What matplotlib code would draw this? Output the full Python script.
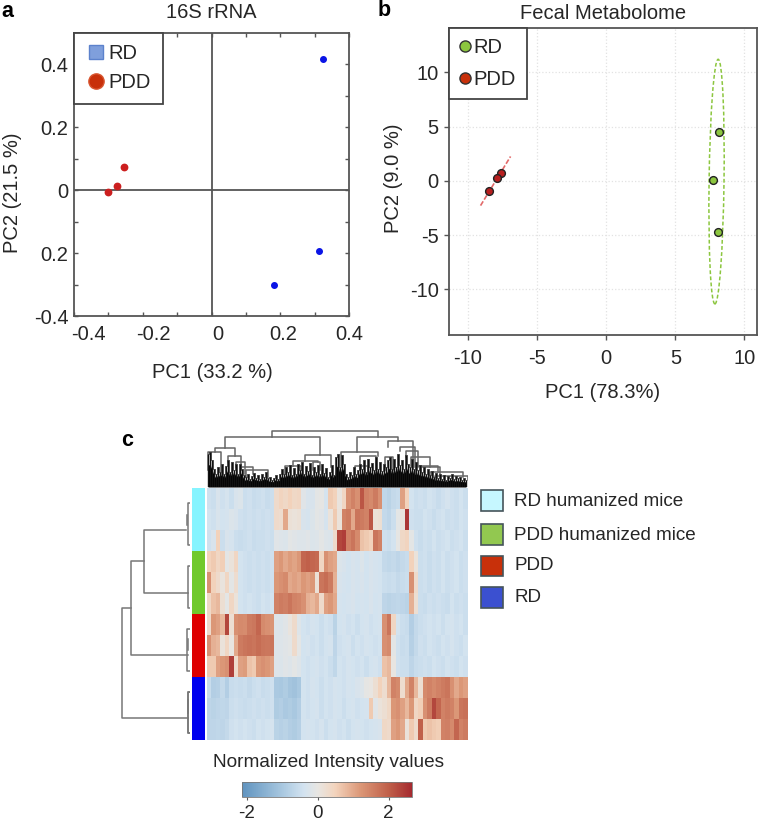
import numpy as np
import matplotlib
matplotlib.use("Agg")
import matplotlib.pyplot as plt
from matplotlib.colors import LinearSegmentedColormap, Normalize
from matplotlib.cm import ScalarMappable
from matplotlib.lines import Line2D
from matplotlib.patches import Ellipse, Rectangle

plt.rcParams["font.family"] = ["Liberation Sans", "DejaVu Sans"]
plt.rcParams["font.size"] = 14.5
plt.rcParams["text.color"] = "#262626"
plt.rcParams["axes.labelcolor"] = "#262626"
plt.rcParams["xtick.labelcolor"] = "#262626"
plt.rcParams["ytick.labelcolor"] = "#262626"
plt.rcParams["axes.unicode_minus"] = False

WIDTH, HEIGHT = 758, 823

# panel a
a_rd_x = [0.325, 0.313, 0.183]
a_rd_y = [0.416, -0.192, -0.300]
a_pdd_x = [-0.255, -0.276, -0.301]
a_pdd_y = [0.072, 0.012, -0.005]
a_xtick_labels = ["-0.4", "-0.2", "0", "0.2", "0.4"]
a_ytick_values = [-0.4, -0.2, 0, 0.2, 0.4]
a_ytick_labels = ["-0.4", "0.2", "0", "0.2", "0.4"]

# panel b
b_rd_x = [8.15, 7.72, 8.05]
b_rd_y = [4.52, 0.06, -4.68]
b_pdd_x = [-7.64, -7.88, -8.50]
b_pdd_y = [0.77, 0.28, -0.98]
b_pdd_line_x = [-9.09, -6.92]
b_pdd_line_y = [-2.28, 2.25]
b_ticks = [-10, -5, 0, 5, 10]

# panel c, normalized intensity per sample
rd_mice_1 = [-.45, -.5, -.3, -.45, -.35, -.5, -.3, -.25, -.5, -.45, -.55, -.5, -.45, -.55, -.5,
             .3, .45, .35, .5, .35, .4, -.15, -.3, -.3, -.1, -.05, -.35, .6, .5, .05, .4,
             1.3, 1.5, 1.3, 2.1, 1.5, 1.4, 1.6, 1.3, -.65, -.75, -.6, -.55, 1.1, .5,
             -.4, -.5, -.45, -.5, -.4, -.45, -.55, -.45, -.35, -.45, -.5, -.4, -.5]
rd_mice_2 = [-.4, -.45, -.3, -.4, -.35, -.25, -.3, -.45, -.5, -.45, -.5, -.45, -.5, -.45, -.5,
             .3, .25, 1.0, .15, .1, .15, -.3, -.35, -.25, -.1, -.15, -.35, .1, .6, .1,
             1.5, 1.6, 1.0, 1.7, 1.6, 1.5, 2.1, .15, .2, -.6, -.7, -.5, -.1, .05, 2.5,
             -.45, -.5, -.5, -.4, -.45, -.55, -.45, -.4, -.5, -.45, -.5, -.4, -.45]
rd_mice_3 = [-.45, -.3, .5, -.5, -.3, -.35, -.5, -.55, -.5, -.45, -.55, -.5, -.5, -.45, -.5,
             -.15, -.2, -.25, -.1, -.15, -.2, -.2, -.15, -.25, -.2, -.1, -.2, -.25, .3,
             2.3, 2.4, 1.5, 1.7, 1.4, .7, .6, .5, 1.7, 1.5, -.45, -.5, -.4, -.05, .35, .45, -.1,
             -.45, -.55, -.45, -.5, -.4, -.5, -.45, -.4, -.5, -.45, -.4, -.5]
pdd_mice_1 = [.5, .6, .4, .55, -.1, .1, .4, -.4, -.45, -.5, -.45, -.5, -.45, -.5, -.45,
              1.1, 1.2, 1.0, 1.15, 1.05, 1.2, 1.9, 2.0, 1.9, 1.85, .4, 1.3, 1.1, 1.0,
              -.25, -.3, -.4, -.3, -.35, -.25, -.4, -.3, -.35, -.4,
              -.6, -.65, -.6, -.7, -.6, -.55, .5, .1,
              -.5, -.45, -.55, -.45, -.5, -.4, -.5, -.45, -.4, -.5, -.45]
pdd_mice_2 = [1.3, .5, .3, .05, .4, -.1, .25, -.4, -.45, -.5, -.45, -.5, -.45, -.5, -.45,
              1.2, 1.3, 1.4, 1.0, 1.1, 1.0, 1.2, 1.1, 1.2, .15, 1.7, 1.8, 1.6, .9,
              -.3, -.35, -.4, -.3, -.35, -.3, -.4, -.3, -.35, -.4, -.5, -.55, -.5, -.6, -.55, -.5,
              1.3, .3, -.5, -.45, -.55, -.45, -.5, -.4, -.5, -.45, -.4, -.5, -.45]
pdd_mice_3 = [.35, .7, .8, .2, -.1, .4, .1, -.4, -.45, -.4, -.45, -.5, -.4, -.45, -.4,
              1.5, 1.6, 1.55, 1.7, 1.5, 1.45, 1.3, .9, .8, 1.0, .3, 1.1, 1.2, 1.0,
              -.35, -.4, -.35, -.3, -.4, -.35, -.4, -.3, -.4, -.35,
              -.7, -.75, -.7, -.65, -.7, -.75, .9, .2,
              -.5, -.55, -.45, -.5, -.45, -.5, -.55, -.4, -.5, -.45, -.5]
pdd_1 = [.3, 1.2, 1.1, .8, 2.3, .2, 1.3, 1.4, 1.35, 1.6, 1.65, 1.9, 1.4, 1.3, 1.25,
         -.2, -.25, -.15, .05, .3, -.2,
         -.4, -.45, -.35, -.4, -.5, -.4, -.45, -.75, -.4, -.35, -.45, -.4, -.5, -.4, -.35, -.45, -.4, -.35,
         1.3, 1.7, .4, -.4, -.5, -.55, -.85,
         -.6, -.5, -.45, -.4, -.45, -.4, -.5, -.4, -.35, -.45, -.4, -.5]
pdd_2 = [1.3, .9, .8, .1, .4, .0, 1.0, 1.6, 1.7, 1.75, 1.7, 1.8, 1.7, 1.65, 1.7,
         -.2, -.2, -.15, -.1, .3, -.1,
         -.4, -.35, -.45, -.4, -.5, -.4, -.35, -.7, -.45, -.4, -.35, -.5, -.4, -.45, -.35, -.4, -.45, -.4,
         1.3, 1.4, -.1, -.45, -.55, -.5, -.8, -.6, -.45, -.5, -.4, -.45, -.5, -.4, -.45, -.35, -.45, -.5, -.4]
pdd_3 = [.6, .6, 1.1, 1.2, 1.3, 2.4, .3, 1.1, 1.15, .7, .6, 1.2, 1.3, 1.2, 1.1,
         -.2, -.25, -.15, -.2, -.1, -.2,
         -.4, -.45, -.4, -.35, -.45, -.4, -.5, -.65, -.4, -.45, -.35, -.4, -.45, -.4, -.5, -.4, -.35, -.45,
         .7, .8, .0, -.45, -.5, -.5, -.7, -.55, -.5, -.45, -.5, -.4, -.45, -.5, -.4, -.45, -.5, -.4, -.45]
rd_1 = [-.55, -.85, -.8, -.6, -.85, -.55, -.5, -.55, -.5, -.6, -.5, -.45, -.55, -.5, -.45,
        -.95, -1.0, -.9, -1.05, -1.1, -1.0,
        -.4, -.45, -.35, -.4, -.5, -.4, -.45, -.35, -.4, -.45, -.35, -.4, -.3, -.25,
        -.05, .0, .2, .5, .25, .8, 1.5, 1.4, .25, 1.0, 1.5, .8, .2,
        1.4, 1.5, 1.4, 1.5, 1.6, 1.7, 1.3, 1.0, 1.2, 1.1]
rd_2 = [-.7, -.75, -.7, -.65, -.7, -.5, -.45, -.5, -.55, -.5, -.45, -.5, -.45, -.5, -.45,
        -.9, -.85, -.95, -.9, -1.0, -.85,
        -.4, -.45, -.4, -.35, -.5, -.4, -.45, -.35, -.4, -.5, -.4, -.35, -.45, -.4, -.35,
        .6, -.15, .1, .2, .35, 1.2, 1.3, 1.1, .8, 1.2, .4, .55,
        1.3, 1.6, 2.3, 1.9, 1.5, 1.6, 1.5, 1.2, 1.7, 1.75]
rd_3 = [-.7, -.7, -.65, -.7, -.6, -.45, -.4, -.45, -.4, -.45, -.5, -.4, -.45, -.4, -.35,
        -.75, -.8, -.75, -.85, -.9, -.8,
        -.4, -.35, -.4, -.45, -.35, -.5, -.4, -.35, -.45, -.4, -.5, -.4, -.35, -.4, -.45, -.4, -.35, -.3,
        .35, .3, 1.1, 1.2, 1.0, .1, .6, .3, 2.0, .6, .7, .6, .55,
        1.5, 1.55, 1.4, 1.9, 1.5, 1.6]
group_colors = ["#86F4FF", "#70C92C", "#DE0000", "#0000EE"]
legend_labels = ["RD humanized mice", "PDD humanized mice", "PDD", "RD"]
legend_colors = ["#C6F7FF", "#92C850", "#C8300A", "#3B50D0"]

# column tree, merges measured from the heatmap top
col_link_left = [457, 315, 712, 285, 265, 325, 350, 365, 380, 555, 520, 495, 580,
                 665, 805, 842, 860, 875, 890, 905, 930, 945, 720, 795, 705]
col_link_right = [775, 600, 835, 345, 305, 365, 375, 400, 445, 635, 595, 545, 600,
                  775, 880, 885, 895, 930, 955, 960, 1030, 1045, 770, 820, 745]
col_link_top = [167, 149, 149, 117, 104, 92, 74, 59, 52, 96, 79, 64, 76,
                104, 137, 121, 107, 89, 64, 61, 44, 34, 92, 89, 64]
col_drop_left = [149, 117, 104, 104, 50, 74, 59, 52, 30, 79, 64, 40, 50,
                 64, 121, 107, 89, 64, 40, 40, 30, 20, 50, 50, 40]
col_drop_right = [149, 96, 137, 92, 40, 50, 40, 40, 30, 60, 76, 50, 50,
                  92, 60, 60, 60, 61, 44, 40, 30, 20, 50, 50, 40]
leaf_heights = [100, 105, 80, 55, 40, 60, 45, 70, 38, 62, 80, 45, 75, 50, 68, 40, 70, 55, 35,
                30, 38, 25, 34, 42, 28, 36, 24, 40, 30, 45, 26,
                30, 22, 28, 36, 24, 40, 55, 38, 60, 45, 66, 35, 58, 40, 70,
                52, 75, 40, 62, 48, 72, 36, 60, 44, 65, 38, 70, 42, 58, 30,
                45, 65, 35, 90, 100, 60, 95, 70, 40, 30, 45, 35, 60, 40,
                50, 70, 55, 80, 45, 85, 60, 72, 50, 90, 55, 75, 48, 70, 60, 80,
                90, 55, 85, 60, 100, 65, 80, 55, 95, 70, 60, 85, 55, 75, 50, 65, 45, 60,
                40, 55, 35, 48, 30, 42, 26, 38, 24, 36, 22, 34, 28, 40, 24, 32, 26, 30, 22, 28, 20]

# row tree, distance from the leaves and position in rows
row_link_dist = [205, 178, 137, 10, 7, 7, 8, 7, 7, 7, 7]
row_link_top = [5.73, 3.48, 2.0, 1.27, .73, 3.71, 6.73, 7.2, 9.7, 10.1, 9.7]
row_link_bottom = [10.97, 7.95, 5.0, 1.76, 2.73, 5.73, 8.71, 7.7, 11.68, 10.7, 11.68]
row_drop_top = [178, 137, 13, 10, 0, 0, 0, 7, 0, 7, 0]
row_drop_bottom = [7, 7, 7, 10, 0, 0, 0, 7, 0, 7, 0]

cmap_stops = [(-2.15, "#5F93BF"), (-1.0, "#A9C8E0"), (-0.4, "#D3E3F0"), (0.0, "#E8E6E2"),
              (0.5, "#F3D3BC"), (1.2, "#DC9878"), (2.0, "#C0604A"), (2.66, "#A52A2F")]
cbar_ticks = [-2, 0, 2]


def add_axes_px(fig, left, top, right, bottom):
    return fig.add_axes([left / WIDTH, 1 - bottom / HEIGHT,
                         (right - left) / WIDTH, (bottom - top) / HEIGHT])


def style_spines(ax, color="#555555", width=1.3):
    for spine in ax.spines.values():
        spine.set_color(color)
        spine.set_linewidth(width)


def set_labels(ax, xlabel, ylabel, x_coords, y_coords):
    ax.set_xlabel(xlabel, va="center")
    ax.set_ylabel(ylabel, va="center")
    ax.xaxis.set_label_coords(*x_coords)
    ax.yaxis.set_label_coords(*y_coords)


def add_legend(ax, handles, labels, labelspacing, handlelength, handletextpad, borderpad):
    legend = ax.legend(handles, labels, loc="upper left", bbox_to_anchor=(0, 1), borderaxespad=0,
                       fancybox=False, framealpha=1, edgecolor="#444444",
                       labelspacing=labelspacing, handletextpad=handletextpad,
                       handlelength=handlelength, borderpad=borderpad, fontsize=14.5)
    legend.get_frame().set_linewidth(1.3)
    return legend


def plot_panel_a(fig):
    ax = add_axes_px(fig, 74, 32.7, 349, 316)
    ax.set_xlim(-0.4, 0.4)
    ax.set_ylim(-0.4, 0.5)
    ax.axhline(0, color="#555555", lw=1.3, zorder=1)
    ax.axvline(0, color="#555555", lw=1.3, zorder=1)
    ax.plot(a_rd_x, a_rd_y, "o", ms=4, color="#0A14E6", zorder=3)
    ax.plot(a_pdd_x, a_pdd_y, "o", ms=4.6, color="#CC1F1F", zorder=3)
    ax.set_xticks(np.arange(-4, 5) / 10)
    ax.set_xticklabels([])
    ax.set_yticks(a_ytick_values)
    ax.set_yticklabels(a_ytick_labels)
    ax.set_yticks([-0.3, -0.1, 0.1, 0.3], minor=True)
    ax.tick_params(which="both", direction="in", top=True, right=True, length=3,
                   color="#555555", width=1.0, pad=4)
    # the printed labels sit a little off their ticks
    for text, pos in zip(a_xtick_labels, [-0.359, -0.170, 0.019, 0.209, 0.401]):
        ax.text(pos, -0.067, text, transform=ax.get_xaxis_transform(), ha="center", va="center")
    set_labels(ax, "PC1 (33.2 %)", "PC2 (21.5 %)", (0.502, -0.201), (-0.222, 0.434))
    ax.set_title("16S rRNA", fontsize=14.5, y=1.0707, va="center", pad=0)
    handles = [Line2D([], [], ls="", marker="s", ms=10.5, mfc="#7F9FDC", mec="#5C82CC"),
               Line2D([], [], ls="", marker="o", ms=11, mfc="#C8300A", mec="#D8552F")]
    add_legend(ax, handles, ["RD", "PDD"], 0.5, 1.0, 0.15, 0.58)
    style_spines(ax)
    return ax


def plot_panel_b(fig):
    ax = add_axes_px(fig, 449.3, 28, 756.5, 334.7)
    ax.set_xlim(-11.35, 10.87)
    ax.set_ylim(-14.18, 14.09)
    ax.grid(True, ls=":", color="#E2E2E2", lw=0.9)
    ax.set_axisbelow(True)
    ax.add_patch(Ellipse((7.98, -0.07), 1.08, 22.55, angle=-0.6, fill=False, ec="#8CC63F",
                         ls=(0, (2.5, 1.5)), lw=1.1))
    ax.plot(b_pdd_line_x, b_pdd_line_y, color="#E26A6A", ls=(0, (3, 1.2)), lw=1.2, zorder=2)
    ax.plot(b_rd_x, b_rd_y, "o", ms=5.6, mfc="#8CC63F", mec="#222222", mew=1.0, zorder=3)
    ax.plot(b_pdd_x, b_pdd_y, "o", ms=5.6, mfc="#B81F1F", mec="#222222", mew=1.0, zorder=3)
    ax.set_xticks(b_ticks)
    ax.set_yticks(b_ticks)
    ax.tick_params(direction="out", length=3.6, color="#555555", width=1.0, pad=4)
    ax.tick_params(axis="x", pad=7)
    set_labels(ax, "PC1 (78.3%)", "PC2 (9.0 %)", (0.50, -0.19), (-0.183, 0.511))
    ax.set_title("Fecal Metabolome", fontsize=14.5, y=1.046, va="center", pad=0)
    handles = [Line2D([], [], ls="", marker="o", ms=8, mfc="#8CC63F", mec="#333333", mew=1.0),
               Line2D([], [], ls="", marker="o", ms=8, mfc="#C8300A", mec="#333333", mew=1.0)]
    add_legend(ax, handles, ["RD", "PDD"], 0.62, 0.5, 0.2, 0.52)
    style_spines(ax)
    return ax


def plot_heatmap(fig, cmap, norm):
    matrix = np.array([rd_mice_1, rd_mice_2, rd_mice_3, pdd_mice_1, pdd_mice_2, pdd_mice_3,
                       pdd_1, pdd_2, pdd_3, rd_1, rd_2, rd_3])
    ax = add_axes_px(fig, 207, 488, 468, 740)
    ax.imshow(matrix, aspect="auto", cmap=cmap, norm=norm, interpolation="nearest")
    ax.axis("off")

    side = add_axes_px(fig, 192.3, 488, 205.3, 742)
    for group_idx, color in enumerate(group_colors):
        side.bar(0.5, 63, bottom=group_idx * 63, width=1, color=color)
    side.set_xlim(0, 1)
    side.set_ylim(254, 0)
    side.axis("off")


def plot_col_tree(fig):
    ax = add_axes_px(fig, 207, 430, 468, 487)
    ax.set_xlim(262, 1045)
    ax.set_ylim(0, 171)
    for left, right, top, drop_l, drop_r in zip(col_link_left, col_link_right, col_link_top,
                                                col_drop_left, col_drop_right):
        ax.plot([left, left, right, right], [drop_l, top, top, drop_r], color="#666666", lw=1.1)
    xs = 265 + np.arange(len(leaf_heights)) * 6
    heights = np.array(leaf_heights)
    ax.vlines(xs, 0, heights, color="#111111", lw=1.0)
    ax.step(xs, heights, where="mid", color="#333333", lw=0.6)
    ax.fill_between(xs, 0, heights * 0.65, color="black", lw=0)
    ax.axis("off")


def plot_row_tree(fig):
    ax = add_axes_px(fig, 115, 488, 190, 740)
    ax.set_xlim(225, 0)
    ax.set_ylim(12, 0)
    for dist, top, bottom, drop_t, drop_b in zip(row_link_dist, row_link_top, row_link_bottom,
                                                 row_drop_top, row_drop_bottom):
        ax.plot([drop_t, dist, dist, drop_b], [top, top, bottom, bottom], color="#777777", lw=1.1)
    ax.axis("off")


def plot_colorbar(fig, cmap, norm):
    cax = add_axes_px(fig, 241.7, 781.7, 412, 796.7)
    cbar = fig.colorbar(ScalarMappable(norm=norm, cmap=cmap), cax=cax, orientation="horizontal")
    cbar.set_ticks(cbar_ticks)
    cbar.set_ticklabels(["-2", "0", "2"])
    cbar.ax.tick_params(length=2, width=0.8, color="#555555", labelsize=13.5, pad=4)
    cbar.outline.set_edgecolor("#777777")
    cbar.outline.set_linewidth(0.6)
    cax.text(0.507, 2.31, "Normalized Intensity values", fontsize=13.7, transform=cax.transAxes,
             ha="center", va="center")


def plot_overlay(fig):
    ax = fig.add_axes([0, 0, 1, 1], facecolor="none")
    ax.set_xlim(0, WIDTH)
    ax.set_ylim(HEIGHT, 0)
    ax.axis("off")
    for letter, x, y in [("a", 7.5, 11), ("b", 384, 10), ("c", 127.5, 440)]:
        ax.text(x, y, letter, fontsize=15.5, fontweight="bold", color="black", ha="center", va="center")
    tops = [490, 524.3, 555.7, 587.3]
    centers = [501, 535, 566, 597.7]
    for label, color, top, center in zip(legend_labels, legend_colors, tops, centers):
        ax.add_patch(Rectangle((481.3, top), 21.3, 20.5, fc=color, ec="#45545A", lw=1.2))
        ax.text(514.3, center, label, fontsize=13.6, va="center", ha="left")


positions = [stop[0] for stop in cmap_stops]
norm = Normalize(positions[0], positions[-1])
cmap = LinearSegmentedColormap.from_list(
    "intensity", [(norm(pos), color) for pos, color in cmap_stops])

fig = plt.figure(figsize=(WIDTH / 100, HEIGHT / 100), dpi=100)
plot_panel_a(fig)
plot_panel_b(fig)
plot_heatmap(fig, cmap, norm)
plot_col_tree(fig)
plot_row_tree(fig)
plot_colorbar(fig, cmap, norm)
plot_overlay(fig)
fig.savefig("out.png", dpi=100)
